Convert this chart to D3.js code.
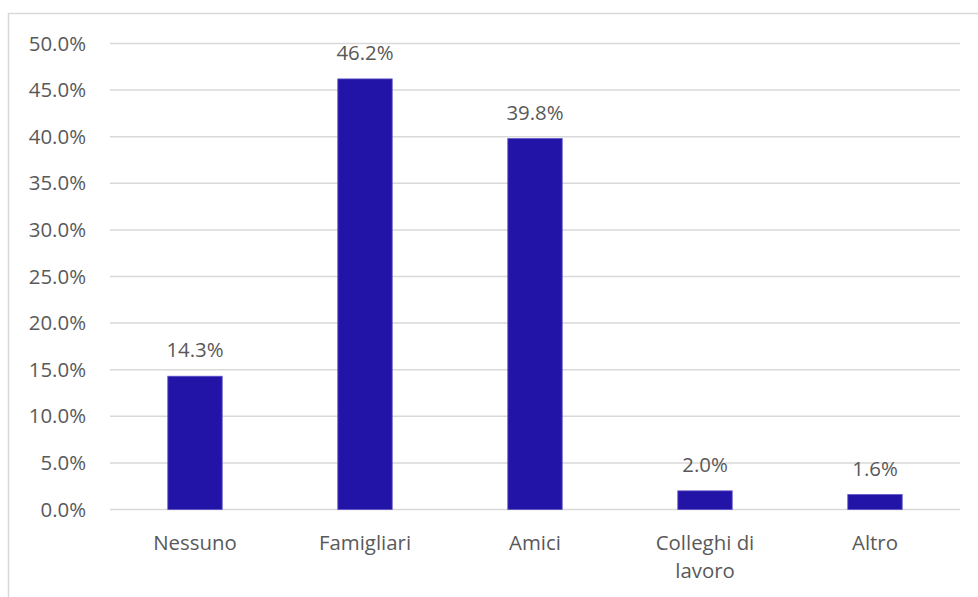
<!DOCTYPE html>
<html>
<head>
<meta charset="utf-8">
<script src="https://cdn.jsdelivr.net/npm/d3@7"></script>
<style>
  html, body { margin: 0; padding: 0; background: #fff; }
  svg text { font-family: "Open Sans", Lato, sans-serif; fill: #595959; }
</style>
</head>
<body>
<svg id="chart" width="978" height="597"></svg>
<script>
// Chart data
const categories = ["Nessuno", "Famigliari", "Amici", "Colleghi di lavoro", "Altro"];
const values = [14.3, 46.2, 39.8, 2.0, 1.6];
const yTicks = [0, 5, 10, 15, 20, 25, 30, 35, 40, 45, 50];

const svg = d3.select("#chart");
const W = 978, H = 597;
const margin = { left: 110, right: 18, top: 43.5, bottom: 87.5 };
const FS = 20.4;

// chart frame
svg.append("rect")
  .attr("x", 8.5).attr("y", 13.5)
  .attr("width", W + 10).attr("height", H + 10)
  .attr("fill", "none").attr("stroke", "#d9d9d9").attr("stroke-width", 1.5);

const x = d3.scaleBand()
  .domain(categories)
  .range([margin.left, W - margin.right])
  .paddingInner(0.68).paddingOuter(0.34);

const y = d3.scaleLinear()
  .domain([0, 50])
  .range([H - margin.bottom, margin.top]);

// gridlines
svg.append("g").selectAll("line")
  .data(yTicks).join("line")
  .attr("x1", margin.left).attr("x2", W - margin.right)
  .attr("y1", d => y(d)).attr("y2", d => y(d))
  .attr("stroke", "#d9d9d9").attr("stroke-width", 1.5);

// y axis labels
const yAxis = d3.axisLeft(y).tickValues(yTicks).tickFormat(d => d.toFixed(1) + "%").tickSize(0).tickPadding(24);
const gy = svg.append("g").attr("transform", `translate(${margin.left},0)`).call(yAxis);
gy.select(".domain").remove();
gy.selectAll("text").attr("font-size", FS).style("font-family", "'Open Sans', Lato, sans-serif").attr("fill", "#595959");

// bars
svg.append("g").selectAll("rect")
  .data(values).join("rect")
  .attr("x", (d, i) => x(categories[i]))
  .attr("y", d => y(d))
  .attr("width", x.bandwidth())
  .attr("height", d => y(0) - y(d))
  .attr("fill", "#2314a8")
  .attr("stroke", "#5e52c8").attr("stroke-width", 0.8);

// value labels
svg.append("g").selectAll("text")
  .data(values).join("text")
  .attr("x", (d, i) => x(categories[i]) + x.bandwidth() / 2)
  .attr("y", d => y(d) - 19)
  .attr("text-anchor", "middle")
  .attr("font-size", FS)
  .text(d => d.toFixed(1) + "%");

// category labels (wrapped)
const catLines = { "Colleghi di lavoro": ["Colleghi di", "lavoro"] };
const gx = svg.append("g");
categories.forEach(c => {
  const lines = catLines[c] || [c];
  const t = gx.append("text")
    .attr("x", x(c) + x.bandwidth() / 2)
    .attr("y", y(0) + 40)
    .attr("text-anchor", "middle")
    .attr("font-size", FS);
  lines.forEach((l, i) => {
    t.append("tspan").attr("x", x(c) + x.bandwidth() / 2).attr("dy", i === 0 ? 0 : 28).text(l);
  });
});
</script>
</body>
</html>
